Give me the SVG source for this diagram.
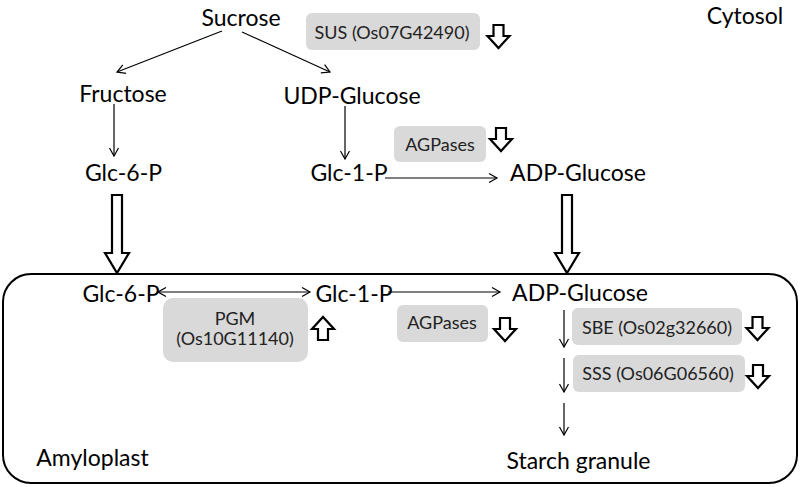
<svg xmlns="http://www.w3.org/2000/svg" width="800" height="487" viewBox="0 0 800 487">
<style>
.lbl{font-family:Lato,"Open Sans","Liberation Sans",sans-serif;font-size:23px;fill:#000;text-anchor:middle}
.btx{font-family:Lato,"Open Sans","Liberation Sans",sans-serif;font-size:18px;fill:#222;text-anchor:middle}
.box{fill:#d9d9d9}
.ln{stroke:#000;stroke-width:1.2;fill:none}
.hol{fill:#fff;stroke:#000;stroke-width:2.2;stroke-linejoin:miter}
</style>
<defs>
<marker id="ah" markerWidth="12" markerHeight="12" refX="9" refY="5" orient="auto" markerUnits="userSpaceOnUse">
<path d="M1,0.5 L9,5 L1,9.5" fill="none" stroke="#000" stroke-width="1.2"/>
</marker>
<marker id="ahs" markerWidth="12" markerHeight="12" refX="1" refY="5" orient="auto" markerUnits="userSpaceOnUse">
<path d="M9,0.5 L1,5 L9,9.5" fill="none" stroke="#000" stroke-width="1.2"/>
</marker>
<path id="sdown" d="M-5,0 H5 V11 H11 L0,23 L-11,11 H-5 Z"/>
<path id="bdown" d="M-5,0 H5 V58 H12 L0,78 L-12,58 H-5 Z"/>
</defs>

<g id="cytosol"><text class="lbl" x="745" y="24">Cytosol</text></g>
<g id="sucrose"><text class="lbl" x="241" y="26">Sucrose</text></g>
<g id="sus">
<rect class="box" x="306" y="13" width="174" height="37" rx="6"/>
<text class="btx" x="392" y="39">SUS (Os07G42490)</text>
<use href="#sdown" class="hol" x="498.5" y="25"/>
</g>
<g id="fructose"><text class="lbl" x="123" y="102">Fructose</text></g>
<g id="udpglucose"><text class="lbl" x="352" y="104">UDP-Glucose</text></g>
<g id="glc6p-cyt"><text class="lbl" x="123.5" y="181">Glc-6-P</text></g>
<g id="glc1p-cyt"><text class="lbl" x="349" y="181">Glc-1-P</text></g>
<g id="adpglucose-cyt"><text class="lbl" x="578" y="181">ADP-Glucose</text></g>
<g id="agpases-cyt">
<rect class="box" x="394" y="126" width="92" height="36" rx="6"/>
<text class="btx" x="440" y="151">AGPases</text>
<use href="#sdown" class="hol" x="501" y="128"/>
</g>

<g id="amyloplast-box">
<rect x="3" y="274" width="794" height="209" rx="28" fill="none" stroke="#000" stroke-width="2"/>
<text class="lbl" x="92.5" y="466">Amyloplast</text>
</g>
<g id="glc6p-amy"><text class="lbl" x="121" y="302">Glc-6-P</text></g>
<g id="glc1p-amy"><text class="lbl" x="354" y="302">Glc-1-P</text></g>
<g id="adpglucose-amy"><text class="lbl" x="580" y="301">ADP-Glucose</text></g>
<g id="pgm">
<rect class="box" x="163" y="298" width="145" height="64" rx="10"/>
<text class="btx" x="235" y="325">PGM</text>
<text class="btx" x="235" y="345">(Os10G11140)</text>
<use href="#sdown" class="hol" transform="translate(323,340) rotate(180)"/>
</g>
<g id="agpases-amy">
<rect class="box" x="397" y="305" width="91" height="37" rx="6"/>
<text class="btx" x="442" y="329">AGPases</text>
<use href="#sdown" class="hol" x="505" y="318"/>
</g>
<g id="sbe">
<rect class="box" x="572" y="308" width="170" height="37" rx="6"/>
<text class="btx" x="657" y="334">SBE (Os02g32660)</text>
<use href="#sdown" class="hol" x="757.5" y="317"/>
</g>
<g id="sss">
<rect class="box" x="573" y="355" width="172" height="37" rx="6"/>
<text class="btx" x="658" y="380">SSS (Os06G06560)</text>
<use href="#sdown" class="hol" x="758" y="365"/>
</g>
<g id="starch"><text class="lbl" x="578.5" y="469">Starch granule</text></g>

<g id="connectors">
<line class="ln" x1="222" y1="31" x2="117" y2="72" marker-end="url(#ah)"/>
<line class="ln" x1="242" y1="32" x2="330" y2="72" marker-end="url(#ah)"/>
<line class="ln" x1="114" y1="104" x2="114" y2="156" marker-end="url(#ah)"/>
<line class="ln" x1="345" y1="106" x2="345" y2="159" marker-end="url(#ah)"/>
<line class="ln" x1="385" y1="178" x2="497" y2="178" marker-end="url(#ah)"/>
<use href="#bdown" class="hol" x="117" y="195"/>
<use href="#bdown" class="hol" x="567" y="195"/>
<line class="ln" x1="158" y1="292" x2="310" y2="292" marker-start="url(#ahs)" marker-end="url(#ah)"/>
<line class="ln" x1="388" y1="292" x2="500" y2="292" marker-end="url(#ah)"/>
<line class="ln" x1="564" y1="310" x2="564" y2="347" marker-end="url(#ah)"/>
<line class="ln" x1="564" y1="358" x2="564" y2="392" marker-end="url(#ah)"/>
<line class="ln" x1="564" y1="403" x2="564" y2="435" marker-end="url(#ah)"/>
</g>
</svg>
